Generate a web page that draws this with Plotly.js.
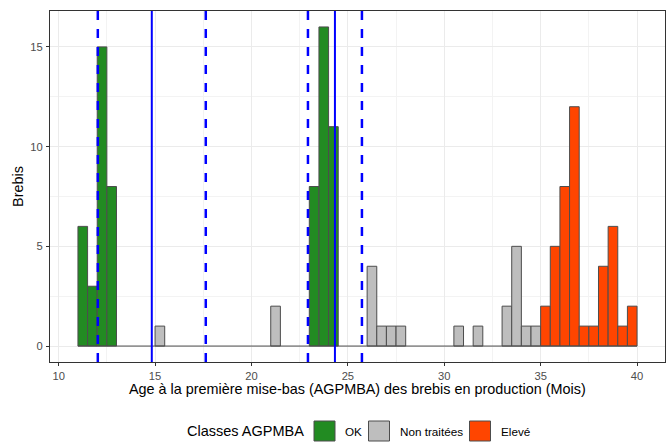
<!DOCTYPE html>
<html>
<head>
<meta charset="utf-8">
<script src="https://cdn.plot.ly/plotly-3.0.1.min.js"></script>
<style>html,body{margin:0;padding:0;background:#fff;}#chart{width:667px;height:442px;}</style>
</head>
<body>
<div id="chart"></div>
<script>
// Histogram bins (bin width 0.5 months), bin centres and counts per class
const binWidth = 0.5;
const okX = [11.25, 11.75, 12.25, 12.75, 23.25, 23.75, 24.25];
const okY = [6, 3, 15, 8, 8, 16, 11];
const ntX = [15.25, 21.25, 26.25, 26.75, 27.25, 27.75, 30.75, 31.75, 33.25, 33.75, 34.25, 34.75];
const ntY = [1, 2, 4, 1, 1, 1, 1, 1, 2, 5, 1, 1];
const elX = [35.25, 35.75, 36.25, 36.75, 37.25, 37.75, 38.25, 38.75, 39.25, 39.75];
const elY = [2, 5, 8, 12, 1, 1, 4, 6, 1, 2];
const classNames = ["OK", "Non traitées", "Elevé"];
const classColors = ["#228B22", "#BEBEBE", "#FF4500"];
const legendTitle = "Classes AGPMBA";
const xTitle = "Age à la première mise-bas (AGPMBA) des brebis en production (Mois)";
const yTitle = "Brebis";
// Reference lines: means (solid) and mean ± sd (dashed)
const meanLines = [14.83, 24.33];
const sdLines = [12.03, 17.63, 22.93, 25.73];
const xTicks = [10, 15, 20, 25, 30, 35, 40];
const yTicks = [0, 5, 10, 15];

const W = 667, H = 442;
const M = {l: 50, r: 2, t: 11, b: 80};
const PW = W - M.l - M.r, PH = H - M.t - M.b;
const px2x = p => (p - M.l) / PW;
const py2y = p => (H - M.b - p) / PH;

const outline = "#4D4D4D";
const allX = okX.concat(ntX, elX);
const xmin = Math.min(...allX) - binWidth / 2;
const xmax = Math.max(...allX) + binWidth / 2;

function barTrace(x, y, i) {
  return {
    type: "bar", x: x, y: y, width: binWidth, name: classNames[i],
    marker: {color: classColors[i], line: {color: outline, width: 1}},
    hoverinfo: "x+y", showlegend: false
  };
}
const traces = [
  {type: "scatter", mode: "lines", x: [xmin, xmax], y: [0, 0], showlegend: false,
   line: {color: outline, width: 1}, hoverinfo: "skip"},
  barTrace(okX, okY, 0),
  barTrace(ntX, ntY, 1),
  barTrace(elX, elY, 2)
];

const shapes = [];
meanLines.forEach(v => shapes.push({type: "line", xref: "x", yref: "paper", x0: v, x1: v, y0: 0, y1: 1,
  line: {color: "#0000FF", width: 2}}));
sdLines.forEach(v => shapes.push({type: "line", xref: "x", yref: "paper", x0: v, x1: v, y0: 0, y1: 1,
  line: {color: "#0000FF", width: 2.5, dash: "dash"}}));

const annotations = [];
// X axis title
annotations.push({xref: "paper", yref: "paper", x: 0.5, y: py2y(389), xanchor: "center", yanchor: "middle",
  text: xTitle, showarrow: false, font: {size: 14.4, color: "#000"}});
// Legend (drawn below the panel, ggplot style)
const legY = 431;           // vertical centre of legend row, px
const boxLeft = [314, 368.5, 469.5];
const boxSize = 21;
annotations.push({xref: "paper", yref: "paper", x: px2x(305.5), y: py2y(legY), xanchor: "right", yanchor: "middle",
  text: legendTitle, showarrow: false, font: {size: 14.5, color: "#000"}});
classNames.forEach((n, i) => {
  shapes.push({type: "rect", xref: "paper", yref: "paper",
    x0: px2x(boxLeft[i]), x1: px2x(boxLeft[i] + boxSize),
    y0: py2y(legY - boxSize / 2 + 0.5), y1: py2y(legY + boxSize / 2 - 0.5),
    fillcolor: classColors[i], line: {color: outline, width: 1}});
  annotations.push({xref: "paper", yref: "paper", x: px2x(boxLeft[i] + boxSize + 8), y: py2y(legY),
    xanchor: "left", yanchor: "middle", text: n, showarrow: false, font: {size: 11.7, color: "#000"}});
});

const range = xmax - xmin;
const layout = {
  width: W, height: H,
  margin: M,
  paper_bgcolor: "#FFFFFF", plot_bgcolor: "#FFFFFF",
  font: {family: "Liberation Sans, Arial, sans-serif", color: "#000"},
  barmode: "overlay",
  bargap: 0,
  xaxis: {
    range: [xmin - 0.05 * range, xmax + 0.05 * range],
    tickvals: xTicks, ticktext: xTicks.map(String),
    ticks: "outside", ticklen: 3, tickcolor: "#333333", tickwidth: 1,
    ticklabelstandoff: 1,
    tickfont: {size: 11.2, color: "#4D4D4D"},
    showgrid: true, gridcolor: "#EBEBEB", gridwidth: 1,
    minor: {dtick: 2.5, tick0: 0, showgrid: true, gridcolor: "#F3F3F3", gridwidth: 1, ticks: ""},
    zeroline: false, showline: true, mirror: true, linecolor: "#333333", linewidth: 1
  },
  yaxis: {
    range: [-0.8, 16.8],
    tickvals: yTicks, ticktext: yTicks.map(String),
    ticks: "outside", ticklen: 3, tickcolor: "#333333", tickwidth: 1,
    ticklabelstandoff: 1,
    tickfont: {size: 11.2, color: "#4D4D4D"},
    showgrid: true, gridcolor: "#EBEBEB", gridwidth: 1,
    minor: {dtick: 2.5, tick0: 0, showgrid: true, gridcolor: "#F3F3F3", gridwidth: 1, ticks: ""},
    zeroline: false, showline: true, mirror: true, linecolor: "#333333", linewidth: 1,
    title: {text: yTitle, font: {size: 14.4, color: "#000"}, standoff: 3}
  },
  shapes: shapes,
  annotations: annotations,
  showlegend: false
};
Plotly.newPlot("chart", traces, layout, {displayModeBar: false, staticPlot: true});
</script>
</body>
</html>
